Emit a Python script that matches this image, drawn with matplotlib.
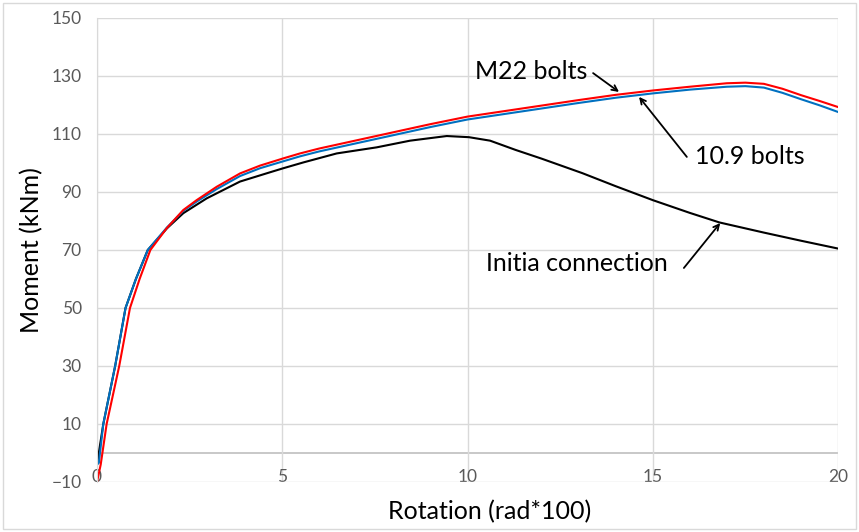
import matplotlib.pyplot as plt
from matplotlib.patches import Rectangle

plt.rcParams['font.family'] = ['Lato', 'DejaVu Sans']

# M22 bolts (red)
x_m22 = [0, 0.1, 0.26, 0.6, 0.89, 1.15, 1.44, 1.88, 2.33, 2.69, 3.23, 3.86, 4.4, 5.03, 5.48, 6.0,
         7.5, 9.0, 10.0, 11.0, 12.0, 13.0, 14.0, 15.0, 16.0, 17.0, 17.5, 18.0, 18.5, 19.0, 19.5, 20.0]
y_m22 = [-10, -4, 10, 30, 50, 60, 70, 77.5, 83.8, 87.2, 91.8, 96.4, 99.1, 101.6, 103.3, 105.0,
         109.2, 113.4, 116.0, 117.9, 119.8, 121.7, 123.5, 125.0, 126.3, 127.5, 127.7, 127.3, 125.6,
         123.4, 121.4, 119.3]

# 10.9 bolts (blue)
x_109 = [0, 0.05, 0.17, 0.49, 0.77, 1.05, 1.37, 1.89, 2.33, 2.69, 3.23, 3.86, 4.4, 5.03, 5.48, 6.0,
         7.5, 9.0, 10.0, 11.0, 12.0, 13.0, 14.0, 15.0, 16.0, 17.0, 17.5, 18.0, 18.5, 19.0, 19.5, 20.0]
y_109 = [-4, -3.4, 10, 30, 50, 60, 70, 77.8, 83.5, 86.7, 91.0, 95.5, 98.2, 100.6, 102.3, 104.0,
         108.2, 112.4, 115.0, 116.9, 118.8, 120.7, 122.5, 124.0, 125.3, 126.3, 126.5, 126.0, 124.2,
         122.0, 119.9, 117.6]

# Initial connection (black)
x_init = [0, 0.17, 0.49, 0.77, 1.05, 1.37, 1.89, 2.33, 2.96, 3.86, 4.67, 5.03, 5.57, 6.47, 7.55,
          8.45, 9.44, 10.04, 10.61, 11.3, 12.0, 13.1, 14.0, 15.0, 16.0, 16.8, 18.0, 19.0, 20.0]
y_init = [-4, 10, 30, 50, 60, 70, 77.5, 82.7, 87.8, 93.6, 96.8, 98.2, 100.2, 103.3, 105.4,
          107.7, 109.3, 108.9, 107.7, 104.5, 101.5, 96.5, 92.0, 87.2, 82.8, 79.5, 76.0, 73.2, 70.5]

xticks = [0, 5, 10, 15, 20]
yticks = list(range(-10, 151, 20))

fig = plt.figure(figsize=(8.59, 5.32), dpi=100)
ax = fig.add_axes([97/859, 50/532, 741/859, 464/532])

ax.plot(x_init, y_init, color='black', lw=1.5)
ax.plot(x_109, y_109, color='#0070c0', lw=1.5)
ax.plot(x_m22, y_m22, color='#ff0000', lw=1.5)

ax.set_xlim(0, 20)
ax.set_ylim(-10, 150)
ax.set_xticks(xticks)
ax.set_yticks(yticks)
ax.grid(True, color='#d9d9d9', lw=1)
ax.set_axisbelow(True)
ax.axhline(0, color='#bfbfbf', lw=1.2, zorder=0.5)
for s in ['top', 'right', 'bottom']:
    ax.spines[s].set_visible(False)
ax.spines['left'].set_color('#d9d9d9')
ax.tick_params(axis='both', length=0, labelsize=12.5, colors='#595959')
ax.tick_params(axis='x', pad=-9)
ax.tick_params(axis='y', pad=11)

ax.set_xlabel('Rotation (rad*100)', fontsize=18, va='center')
ax.xaxis.set_label_coords(0.530, -0.0647)
ax.set_ylabel('Moment (kNm)', fontsize=18, va='center')
ax.yaxis.set_label_coords(-0.0877, 0.5)

arrow = dict(arrowstyle='->', color='black', lw=1.3, shrinkA=0, shrinkB=0)
ax.text(11.71, 131.4, 'M22 bolts', fontsize=18, ha='center', va='center')
ax.annotate('', xy=(14.09, 124.5), xytext=(13.39, 131.0), arrowprops=arrow)
ax.text(17.62, 102.1, '10.9 bolts', fontsize=18, ha='center', va='center')
ax.annotate('', xy=(14.63, 122.8), xytext=(15.92, 102.1), arrowprops=arrow)
ax.text(12.96, 65.2, 'Initia connection', fontsize=18, ha='center', va='center')
ax.annotate('', xy=(16.82, 79.3), xytext=(15.84, 63.8), arrowprops=arrow)

fig.add_artist(Rectangle((3/859, 3/532), 853/859, 526/532, transform=fig.transFigure,
                         fill=False, ec='#d9d9d9', lw=1))

fig.savefig('out.png', dpi=100)
